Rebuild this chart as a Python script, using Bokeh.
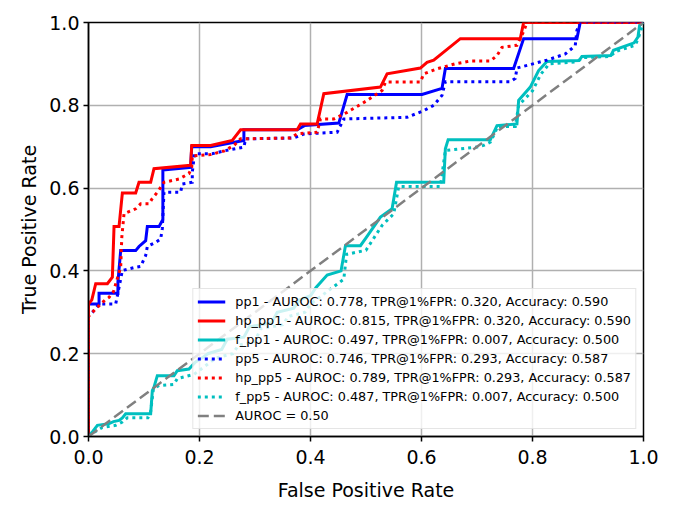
from bokeh.plotting import figure
from bokeh.models import Range1d, FixedTicker, PrintfTickFormatter, Legend, LegendItem
from bokeh.embed import file_html
from bokeh.resources import INLINE

# ---------------- data ----------------
series_names = ["pp1", "hp_pp1", "f_pp1", "pp5", "hp_pp5", "f_pp5"]
auroc_vals = ["0.778", "0.815", "0.497", "0.746", "0.789", "0.487"]
tpr1_vals = ["0.320", "0.320", "0.007", "0.293", "0.293", "0.007"]
acc_vals = ["0.590", "0.590", "0.500", "0.587", "0.587", "0.500"]

pp1_fpr = [0, 0, 0.019, 0.019, 0.053, 0.053, 0.058, 0.085, 0.091, 0.103, 0.106, 0.127, 0.134, 0.134,
           0.184, 0.186, 0.22, 0.28, 0.28, 0.376, 0.389, 0.451, 0.466, 0.601, 0.637, 0.643, 0.766, 0.784,
           0.880, 0.886, 1.0]
pp1_tpr = [0, 0.32, 0.32, 0.346, 0.346, 0.373, 0.449, 0.449, 0.459, 0.473, 0.507, 0.507, 0.524, 0.644,
           0.650, 0.700, 0.700, 0.715, 0.741, 0.741, 0.751, 0.757, 0.826, 0.826, 0.841, 0.889, 0.889, 0.961,
           0.961, 1.0, 1.0]

hp_pp1_fpr = [0, 0, 0.006, 0.013, 0.034, 0.043, 0.046, 0.055, 0.061, 0.085, 0.091, 0.112, 0.118, 0.184,
              0.186, 0.22, 0.259, 0.274, 0.376, 0.382, 0.412, 0.424, 0.526, 0.538, 0.598, 0.610, 0.622,
              0.670, 0.778, 0.784, 1.0]
hp_pp1_tpr = [0, 0.32, 0.33, 0.369, 0.369, 0.385, 0.507, 0.507, 0.588, 0.588, 0.614, 0.614, 0.647, 0.655,
              0.703, 0.703, 0.715, 0.741, 0.741, 0.755, 0.755, 0.828, 0.844, 0.876, 0.890, 0.904, 0.909,
              0.961, 0.961, 1.0, 1.0]

f_pp1_fpr = [0, 0.008, 0.016, 0.037, 0.045, 0.055, 0.061, 0.067, 0.112, 0.115, 0.118, 0.124, 0.154, 0.160,
             0.181, 0.193, 0.205, 0.215, 0.24, 0.25, 0.28, 0.29, 0.33, 0.34, 0.37, 0.38, 0.40, 0.41, 0.418,
             0.43, 0.455, 0.463, 0.49, 0.50, 0.526, 0.547, 0.555, 0.640, 0.643, 0.648, 0.724, 0.736, 0.772,
             0.775, 0.796, 0.811, 0.826, 0.884, 0.889, 0.941, 0.946, 0.983, 0.99, 0.993, 1.0]
f_pp1_tpr = [0, 0.013, 0.027, 0.031, 0.036, 0.039, 0.045, 0.055, 0.055, 0.111, 0.119, 0.147, 0.147, 0.159,
             0.163, 0.18, 0.19, 0.20, 0.21, 0.235, 0.24, 0.265, 0.275, 0.30, 0.31, 0.33, 0.34, 0.36, 0.372,
             0.39, 0.40, 0.461, 0.461, 0.48, 0.53, 0.55, 0.614, 0.614, 0.695, 0.717, 0.717, 0.751, 0.755,
             0.812, 0.844, 0.884, 0.906, 0.908, 0.918, 0.92, 0.933, 0.951, 0.965, 0.993, 1.0]

pp5_fpr = [0, 0, 0.007, 0.019, 0.049, 0.055, 0.061, 0.085, 0.094, 0.103, 0.106, 0.121, 0.13, 0.133, 0.136,
           0.166, 0.169, 0.187, 0.187, 0.191, 0.223, 0.245, 0.28, 0.283, 0.37, 0.389, 0.448, 0.46, 0.574,
           0.604, 0.622, 0.637, 0.643, 0.760, 0.769, 0.772, 0.826, 0.859, 0.877, 0.880, 0.886, 1.0]
pp5_tpr = [0, 0.293, 0.30, 0.32, 0.32, 0.36, 0.401, 0.409, 0.411, 0.437, 0.459, 0.469, 0.477, 0.502, 0.590,
           0.590, 0.61, 0.614, 0.638, 0.683, 0.683, 0.69, 0.699, 0.719, 0.721, 0.731, 0.735, 0.767, 0.771,
           0.787, 0.80, 0.824, 0.857, 0.857, 0.865, 0.89, 0.909, 0.924, 0.944, 0.981, 1.0, 1.0]

hp_pp5_fpr = [0, 0, 0.004, 0.022, 0.030, 0.037, 0.045, 0.058, 0.060, 0.064, 0.085, 0.094, 0.109, 0.115,
              0.124, 0.136, 0.163, 0.181, 0.186, 0.187, 0.22, 0.245, 0.262, 0.274, 0.364, 0.376, 0.412,
              0.418, 0.442, 0.466, 0.50, 0.529, 0.535, 0.598, 0.604, 0.628, 0.66, 0.688, 0.724, 0.736,
              0.745, 0.772, 0.784, 0.79, 1.0]
hp_pp5_tpr = [0, 0.29, 0.296, 0.32, 0.33, 0.336, 0.35, 0.409, 0.481, 0.538, 0.55, 0.562, 0.562, 0.575,
              0.59, 0.614, 0.622, 0.635, 0.650, 0.678, 0.681, 0.69, 0.703, 0.719, 0.721, 0.731, 0.735,
              0.767, 0.767, 0.783, 0.81, 0.836, 0.856, 0.856, 0.876, 0.888, 0.900, 0.907, 0.907, 0.92,
              0.94, 0.945, 0.978, 1.0, 1.0]

f_pp5_fpr = [0, 0.01, 0.025, 0.049, 0.061, 0.07, 0.107, 0.112, 0.117, 0.127, 0.154, 0.16, 0.19, 0.21, 0.23,
             0.26, 0.27, 0.30, 0.31, 0.35, 0.36, 0.39, 0.40, 0.43, 0.46, 0.465, 0.50, 0.529, 0.55, 0.559,
             0.634, 0.643, 0.70, 0.712, 0.724, 0.733, 0.737, 0.769, 0.775, 0.80, 0.815, 0.83, 0.88, 0.89,
             0.94, 0.95, 0.985, 0.99, 1.0]
f_pp5_tpr = [0, 0.01, 0.022, 0.027, 0.035, 0.045, 0.045, 0.06, 0.115, 0.123, 0.126, 0.14, 0.15, 0.17, 0.19,
             0.20, 0.22, 0.23, 0.26, 0.27, 0.29, 0.30, 0.32, 0.35, 0.38, 0.44, 0.45, 0.51, 0.538, 0.604,
             0.604, 0.691, 0.699, 0.703, 0.711, 0.735, 0.749, 0.749, 0.80, 0.835, 0.875, 0.900, 0.905,
             0.915, 0.918, 0.93, 0.945, 0.96, 1.0]

chance_x = [0, 1]
chance_y = [0, 1]
chance_label = "AUROC = 0.50"

x_ticks = [0.0, 0.2, 0.4, 0.6, 0.8, 1.0]
y_ticks = [0.0, 0.2, 0.4, 0.6, 0.8, 1.0]

# ---------------- figure ----------------
FONT = "DejaVu Sans"
p = figure(frame_width=555, frame_height=414,
           x_range=Range1d(0, 1), y_range=Range1d(0, 1),
           output_backend="svg", toolbar_location=None,
           min_border_left=88, min_border_right=20, min_border_top=22, min_border_bottom=70)

p.outline_line_color = "black"
p.outline_line_width = 1.5
p.outline_line_alpha = 1

for ax, ticks, lab in ((p.xaxis, x_ticks, "False Positive Rate"), (p.yaxis, y_ticks, "True Positive Rate")):
    ax.ticker = FixedTicker(ticks=ticks)
    ax.formatter = PrintfTickFormatter(format="%.1f")
    ax.axis_label = lab
    ax.axis_label_text_font = FONT
    ax.axis_label_text_font_size = "19px"
    ax.axis_label_text_font_style = "normal"
    ax.axis_label_text_color = "black"
    ax.major_label_text_font = FONT
    ax.major_label_text_font_size = "19px"
    ax.major_label_text_color = "black"
    ax.major_tick_in = 0
    ax.major_tick_out = 5
    ax.major_tick_line_width = 1.5
    ax.major_tick_line_color = "black"
    ax.minor_tick_line_color = None
    ax.axis_line_color = "black"
    ax.axis_line_width = 1.5

p.yaxis.major_label_standoff = 4
p.xaxis.major_label_standoff = 8
p.xaxis.axis_label_standoff = 12
p.yaxis.axis_label_standoff = 6

p.grid.grid_line_color = "#b0b0b0"
p.grid.grid_line_width = 1.5
p.xgrid.ticker = FixedTicker(ticks=x_ticks)
p.ygrid.ticker = FixedTicker(ticks=y_ticks)

styles = [
    (pp1_fpr, pp1_tpr, "#0000ff", "solid"),
    (hp_pp1_fpr, hp_pp1_tpr, "#ff0000", "solid"),
    (f_pp1_fpr, f_pp1_tpr, "#00bfbf", "solid"),
    (pp5_fpr, pp5_tpr, "#0000ff", "3 4"),
    (hp_pp5_fpr, hp_pp5_tpr, "#ff0000", "3 4"),
    (f_pp5_fpr, f_pp5_tpr, "#00bfbf", "3 4"),
]

items = []
for (xs, ys, col, dash), name, a, t, acc in zip(styles, series_names, auroc_vals, tpr1_vals, acc_vals):
    r = p.line(xs, ys, line_color=col, line_width=3, line_dash=dash, line_cap="butt", line_join="miter")
    items.append(LegendItem(label=f"{name} - AUROC: {a}, TPR@1%FPR: {t}, Accuracy: {acc}", renderers=[r]))

rd = p.line(chance_x, chance_y, line_color="#808080", line_width=2.5, line_dash="11 5")
items.append(LegendItem(label=chance_label, renderers=[rd]))

legend = Legend(items=items, location="bottom_right")
legend.label_text_font = FONT
legend.label_text_font_size = "12.8px"
legend.label_text_color = "black"
legend.glyph_width = 28
legend.glyph_height = 17
legend.label_height = 17
legend.spacing = 2
legend.padding = 4
legend.margin = 7
legend.label_standoff = 10
legend.border_line_color = "#cccccc"
legend.border_line_width = 1.5
legend.background_fill_color = "white"
legend.background_fill_alpha = 0.8
p.add_layout(legend)

open("out.html", "w").write(file_html(p, INLINE))
